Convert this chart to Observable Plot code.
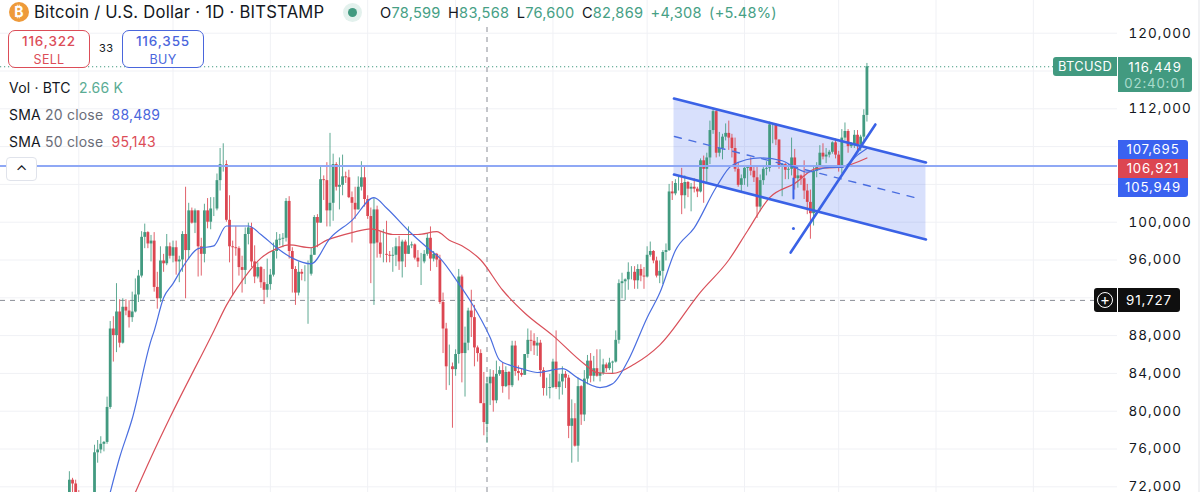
<!DOCTYPE html>
<html><head><meta charset="utf-8">
<script src="https://cdn.jsdelivr.net/npm/d3@7"></script>
<script src="https://cdn.jsdelivr.net/npm/@observablehq/plot@0.6"></script>
<style>
html,body{margin:0;padding:0;background:#fff;overflow:hidden}
#wrap{position:relative;width:1200px;height:492px;font-family:Inter,"Noto Sans",sans-serif;color:#131722}
#wrap svg{position:absolute;left:0;top:0;display:block}
#wrap svg text{letter-spacing:1px}
.t{position:absolute;white-space:nowrap;line-height:1}
.box{position:absolute;box-sizing:border-box;text-align:center;white-space:nowrap}
.g{color:#46a085}.r{color:#dc4d58}.b{color:#4a66dc}.m{color:#6a6d78}
.p{letter-spacing:.85px}
</style></head><body><div id="wrap"></div>
<script>
// Daily candles in thousands of USD, starting 2024-10-27
const firstDay = Date.UTC(2024, 9, 27);
const opens = [67.0,68.0,69.9,72.7,72.3,
70.2,69.5,69.3,68.8,67.8,69.4,75.6,75.9,76.5,76.7,80.4,88.7,88.0,90.5,87.2,91.0,90.6,89.9,90.5,92.3,94.3,98.4,98.9,97.7,98.0,93.1,91.9,95.9,95.6,97.4,
96.4,97.3,95.8,96.0,98.7,97.0,101.2,99.9,101.2,97.4,96.6,101.2,100.0,101.4,101.4,104.4,106.1,106.1,100.2,97.4,97.3,97.2,95.2,94.9,98.7,99.4,95.8,94.2,95.2,93.6,92.8,
93.4,94.4,96.9,98.1,98.2,98.3,102.2,96.9,95.0,92.5,94.7,94.5,94.5,94.5,96.5,100.5,99.9,104.5,104.4,101.2,102.0,106.1,103.7,103.9,104.8,104.7,102.6,102.0,101.3,103.7,104.7,
102.4,100.6,97.7,101.3,97.8,96.6,96.6,96.5,96.4,96.5,97.4,95.8,97.9,96.6,97.5,97.6,96.2,95.8,95.8,96.6,98.3,96.1,96.6,96.0,91.5,88.7,84.7,84.7,
84.4,86.0,94.2,86.1,87.2,90.6,89.9,86.7,86.1,80.8,78.6,82.9,83.6,81.1,83.9,84.3,82.6,84.1,82.7,86.9,84.2,84.0,83.8,86.0,87.5,87.4,86.9,87.2,84.3,82.4,82.4,
82.5,85.2,82.5,83.1,83.9,83.5,78.4,79.2,76.3,82.6,79.6,83.4,85.3,83.7,84.5,83.7,84.0,84.9,84.5,85.1,85.2,87.5,93.5,93.7,93.9,94.7,94.7,93.8,95.0,94.3,
94.2,96.5,96.9,95.9,94.3,94.8,96.8,97.0,103.2,103.0,104.1,104.1,102.8,104.2,103.5,103.7,103.5,103.2,106.5,105.6,106.8,109.7,111.7,107.3,107.8,109.0,109.4,108.9,107.8,105.6,103.9,
104.6,105.7,105.9,105.4,104.7,101.6,104.4,105.6,105.7,110.3,110.3,108.7,105.9,106.1,105.5,105.6,106.8,104.6,104.9,104.6,103.3,102.1,100.9,105.4,106.0,107.3,106.9,107.1,107.4,108.4,
107.1,105.7,108.9,109.6,108.0,108.2,109.2,108.2,109.0,111.3];
const highs = [68.3,70.2,73.6,72.9,72.7,
71.6,70.0,69.5,69.5,70.5,76.4,76.9,77.3,76.8,81.5,89.5,90.0,93.5,91.8,91.9,91.8,91.7,92.6,94.0,94.9,99.0,99.8,99.0,98.6,98.9,94.7,97.4,96.6,98.7,97.8,
98.0,98.0,96.4,99.0,103.7,102.0,101.5,101.4,101.2,98.3,101.9,102.5,102.6,102.6,105.1,107.8,108.3,106.5,102.8,98.0,99.5,97.4,96.4,99.4,99.9,99.9,97.5,95.7,95.3,95.0,96.1,
95.0,97.8,98.9,98.7,98.8,102.5,102.7,97.3,95.3,95.8,95.0,95.4,95.9,97.3,100.7,100.8,105.9,104.9,106.3,109.4,107.2,106.3,106.8,107.1,105.3,105.5,103.2,103.7,104.8,106.4,106.0,
102.8,101.5,102.5,101.7,99.0,99.2,100.1,96.9,97.3,98.3,98.5,98.1,98.1,99.5,97.9,97.7,97.0,96.7,97.0,98.8,99.5,96.9,96.7,96.5,92.5,89.3,87.0,85.1,
86.5,95.0,94.4,88.9,90.9,92.8,91.2,86.9,86.5,84.1,83.6,84.4,84.3,85.3,84.7,85.1,84.7,84.2,87.4,87.4,84.8,84.5,86.0,88.7,88.5,88.2,87.8,87.5,84.6,83.5,83.9,
85.5,88.5,83.9,84.7,84.2,83.8,81.2,80.8,83.5,82.7,84.3,85.9,86.1,85.8,86.5,86.5,85.5,85.1,85.6,85.3,88.5,93.9,94.6,94.0,95.7,95.3,95.3,95.5,95.5,95.2,
97.4,97.9,97.0,96.3,95.9,97.0,97.7,104.0,104.3,104.5,104.9,105.7,104.9,104.3,104.1,104.6,103.7,106.7,107.0,107.3,110.7,112.0,111.9,109.5,109.3,110.4,110.7,109.3,108.9,106.3,105.0,
105.8,105.9,106.8,106.0,105.9,105.0,105.9,106.4,110.6,110.4,110.4,108.7,106.2,106.2,106.1,108.9,107.7,105.6,105.0,106.5,104.0,103.4,106.0,106.3,108.1,108.3,107.8,107.6,108.5,108.8,
107.5,109.8,110.5,109.8,108.4,109.7,109.7,109.2,111.9,116.8];
const lows = [66.8,67.5,69.7,71.4,69.7,
68.8,69.0,67.5,66.8,67.5,69.3,74.5,75.5,75.7,76.5,80.2,85.2,86.2,86.7,87.1,90.1,88.8,89.4,90.4,91.5,94.1,97.2,97.2,95.8,92.6,90.8,91.5,94.7,95.4,96.1,
95.7,94.4,93.6,94.7,91.9,96.0,99.8,98.8,94.2,94.3,95.7,99.3,99.2,100.6,101.2,103.3,105.3,100.0,95.7,92.2,96.4,94.3,92.5,93.4,97.6,95.2,93.5,94.0,93.0,91.3,92.0,
92.8,94.2,96.1,97.5,97.3,97.9,96.1,92.5,91.2,92.2,93.8,93.7,89.2,94.3,96.5,97.3,99.9,102.3,99.5,99.5,100.1,103.3,101.3,102.8,104.1,102.5,97.8,100.3,101.3,103.3,101.6,
100.3,93.5,91.2,96.2,96.2,95.7,95.7,95.7,94.7,95.3,94.9,94.1,95.2,96.6,97.2,96.0,95.2,93.3,95.6,96.4,94.8,95.8,95.2,91.3,86.1,82.2,82.7,78.2,
83.7,85.0,83.0,81.5,86.4,87.8,84.7,85.2,80.9,77.4,76.6,80.6,79.9,80.8,83.7,81.9,82.5,81.2,82.5,83.7,83.2,83.6,83.8,85.6,86.3,85.9,85.8,83.6,81.6,81.6,81.3,
82.4,82.3,81.2,81.7,82.4,77.1,74.5,76.2,74.6,78.5,78.9,82.8,83.0,83.1,83.6,83.1,83.8,84.1,84.3,83.9,85.1,87.1,91.9,91.7,92.8,93.9,92.9,92.9,93.7,92.9,
94.1,96.3,95.6,94.1,93.5,93.4,95.9,96.9,102.3,102.8,103.3,100.8,101.4,102.6,101.1,103.1,102.6,103.1,102.0,104.2,106.1,109.3,106.8,106.9,106.6,108.6,107.6,106.8,105.3,103.7,103.1,
103.9,103.7,104.9,104.2,100.4,101.1,103.9,104.9,105.3,108.3,108.1,105.6,102.7,104.5,104.5,104.9,103.4,103.6,103.9,102.4,100.8,98.2,99.6,104.7,105.9,106.6,106.2,106.8,107.2,106.7,
105.3,105.1,108.6,107.3,107.8,107.8,107.5,107.5,108.4,110.6];
const closes = [68.0,69.9,72.7,72.3,70.2,
69.5,69.3,68.8,67.8,69.4,75.6,75.9,76.5,76.7,80.4,88.7,88.0,90.5,87.2,91.0,90.6,89.9,90.5,92.3,94.3,98.4,98.9,97.7,98.0,93.1,91.9,95.9,95.6,97.4,96.4,
97.3,95.8,96.0,98.7,97.0,101.2,99.9,101.2,97.4,96.6,101.2,100.0,101.4,101.4,104.4,106.1,106.1,100.2,97.4,97.3,97.2,95.2,94.9,98.7,99.4,95.8,94.2,95.2,93.6,92.8,93.4,
94.4,96.9,98.1,98.2,98.3,102.2,96.9,95.0,92.5,94.7,94.5,94.5,94.5,96.5,100.5,99.9,104.5,104.4,101.2,102.0,106.1,103.7,103.9,104.8,104.7,102.6,102.0,101.3,103.7,104.7,102.4,
100.6,97.7,101.3,97.8,96.6,96.6,96.5,96.4,96.5,97.4,95.8,97.9,96.6,97.5,97.6,96.2,95.8,95.8,96.6,98.3,96.1,96.6,96.0,91.5,88.7,84.7,84.7,84.4,
86.0,94.2,86.1,87.2,90.6,89.9,86.7,86.1,80.8,78.8,82.9,83.6,81.1,83.9,84.3,82.6,84.1,82.7,86.9,84.2,84.0,83.8,86.0,87.5,87.4,86.9,87.2,84.3,82.4,82.4,82.5,
85.2,82.5,83.1,83.9,83.5,78.4,79.2,76.3,82.6,79.6,83.4,85.3,83.7,84.5,83.7,84.0,84.9,84.5,85.1,85.2,87.5,93.5,93.7,93.9,94.7,94.7,93.8,95.0,94.3,94.2,
96.5,96.9,95.9,94.3,94.8,96.8,97.0,103.2,103.0,104.1,104.1,102.8,104.2,103.5,103.7,103.5,103.2,106.5,105.6,106.8,109.7,111.7,107.3,107.8,109.0,109.4,108.9,107.8,105.6,103.9,104.6,
105.7,105.9,105.4,104.7,101.6,104.4,105.6,105.7,110.3,110.3,108.7,105.9,106.1,105.5,105.6,106.8,104.6,104.9,104.6,103.3,102.1,100.9,105.4,106.0,107.3,106.9,107.1,107.4,108.4,107.1,
105.7,108.9,109.6,108.0,108.2,109.2,108.2,109.0,111.3,116.449];

// SMA curves: day number since firstDay, price in thousands
const sma20Days = [15,18,22,28,29,32,35,38,43,48,52,59,63,68,73,79,85,92,99,103,110,116,120,126,130,136,139,142,146,151,159,164,171,175,180,186,190,195,201,208,213,222,229,233,237,244,248,253,256];
const sma20Vals = [71.4,75.1,79.2,87.5,88.5,92.0,93.5,95.2,97.2,97.5,99.6,99.6,98.7,97.3,96.2,95.6,98.3,100.2,102.6,101.5,99.1,97.3,96.2,93.5,91.5,87.8,85.4,84.9,84.5,84.1,84.5,83.5,82.5,82.9,85.4,89.9,92.5,97.0,99.4,103.7,106.0,106.8,106.5,105.8,105.3,105.8,105.8,107.1,107.8];
const sma50Days = [23,28,34,48,52,57,63,68,72,79,84,92,98,105,113,119,123,127,133,140,147,156,166,170,175,182,190,203,212,218,225,233,240,247,256];
const sma50Vals = [71.4,75.1,79.3,88.5,91.2,93.8,96.2,97.2,97.6,97.3,98.1,98.9,99.3,98.7,98.7,99.0,98.1,97.5,96.0,92.8,90.4,88.0,85.0,84.1,84.0,85.0,87.0,92.6,96.0,99.1,102.6,104.1,105.7,105.8,106.8];

// Hand drawings on the chart: day numbers and prices
const channelDays = [194.55, 274.8];
const channelUpper = [113.09, 106.32];
const channelLower = [105.05, 98.17];
const midDays = [194.7, 272.4];
const midVals = [109.07, 102.51];
const trendDays = [231.7, 258.7];
const trendVals = [96.79, 110.34];
const stubDays = [232.6, 232.6];
const stubVals = [104.63, 102.51];
const dotDay = 232.6, dotVal = 99.33;

const levelLine = 105.949;
const lastPrice = 116.449;
const crossDay = 135;
const crossPrice = 91.727;
const gridPrices = [72,76,80,84,88,92,96,100,104,108,112,116,120];
const tickPrices = [72,76,80,84,88,96,100,112,120];

const GREEN = "#429a80", RED = "#dc4651", BLUE = "#3a62e6", SMA_BLUE = "#4a6ee0", SMA_RED = "#d9505a";
const dayDate = d => new Date(firstDay + d * 864e5);
const candles = closes.map((c, i) => ({date: dayDate(i), o: opens[i], h: highs[i], l: lows[i], c, col: c >= opens[i] ? GREEN : RED}));
const pairs = (ds, vs) => ds.map((d, i) => ({date: dayDate(d), v: vs[i]}));
const channel = channelDays.map((d, i) => ({date: dayDate(d), u: channelUpper[i], l: channelLower[i]}));
const months = d3.utcMonth.range(new Date(Date.UTC(2024, 9, 1)), new Date(Date.UTC(2025, 9, 1)));

const plot = Plot.plot({
  width: 1200, height: 492,
  marginLeft: 0, marginRight: 83, marginTop: 0, marginBottom: 0,
  style: {background: "transparent", fontFamily: "Inter, 'Noto Sans', sans-serif"},
  x: {type: "utc", domain: [dayDate(-19.94), dayDate(335.8)], axis: null},
  y: {domain: [71.4, 123.46], axis: null},
  marks: [
    Plot.ruleX(months, {stroke: "#f0f1f5", strokeWidth: 1}),
    Plot.ruleY(gridPrices, {stroke: "#f0f1f5", strokeWidth: 1}),
    Plot.areaY(channel, {x: "date", y1: "l", y2: "u", fill: "#3a63ee", fillOpacity: 0.2}),
    Plot.ruleY([lastPrice], {stroke: GREEN, strokeDasharray: "1.2,2.8", strokeWidth: 1}),
    Plot.ruleX([dayDate(crossDay)], {y1: 71.4, y2: 121, stroke: "#8a8d96", strokeDasharray: "5,5", strokeWidth: 1}),
    Plot.ruleY([crossPrice], {stroke: "#8a8d96", strokeDasharray: "5,5", strokeWidth: 1}),
    Plot.ruleX(candles, {x: "date", y1: "l", y2: "h", stroke: "col", strokeWidth: 1, strokeOpacity: 0.85}),
    Plot.ruleX(candles, {x: "date", y1: "o", y2: "c", stroke: "col", strokeWidth: 2.8}),
    Plot.line(pairs(sma50Days, sma50Vals), {x: "date", y: "v", stroke: SMA_RED, strokeWidth: 1.2, curve: "monotone-x"}),
    Plot.line(pairs(sma20Days, sma20Vals), {x: "date", y: "v", stroke: SMA_BLUE, strokeWidth: 1.2, curve: "monotone-x"}),
    Plot.ruleY([levelLine], {stroke: "#8fa8f5", strokeWidth: 2.2}),
    Plot.line(channel, {x: "date", y: "u", stroke: BLUE, strokeWidth: 2.6}),
    Plot.line(channel, {x: "date", y: "l", stroke: BLUE, strokeWidth: 2.6}),
    Plot.line(pairs(midDays, midVals), {x: "date", y: "v", stroke: "#4a6ee0", strokeWidth: 1.4, strokeDasharray: "7,8"}),
    Plot.line(pairs(trendDays, trendVals), {x: "date", y: "v", stroke: BLUE, strokeWidth: 2.6}),
    Plot.line(pairs(stubDays, stubVals), {x: "date", y: "v", stroke: BLUE, strokeWidth: 2}),
    Plot.dot([{date: dayDate(dotDay), v: dotVal}], {x: "date", y: "v", r: 1.5, fill: BLUE}),
    Plot.axisY(tickPrices, {anchor: "right", tickSize: 0, tickPadding: 11, fontSize: 13.5, stroke: "none", fill: "#131722", tickFormat: d => d3.format(",")(d * 1000), label: null})
  ]
});
const wrap = document.getElementById("wrap");
wrap.appendChild(plot);

const overlay = `
<div class="box" style="left:9px;top:2px;width:20px;height:20px;border-radius:50%;background:#ee9a3a;color:#fff;font-size:14px;line-height:20px;font-weight:700">₿</div>
<div class="t" style="left:34px;top:3px;font-size:16.6px;line-height:19px;letter-spacing:.26px">Bitcoin / U.S. Dollar · 1D · BITSTAMP</div>
<div class="box" style="left:343px;top:3px;width:19px;height:19px;border-radius:50%;background:#e3f1ed"></div>
<div class="box" style="left:348px;top:8px;width:9px;height:9px;border-radius:50%;background:#429a80"></div>
<div class="t" style="left:380px;top:4px;font-size:14.6px;line-height:18px;word-spacing:3px;letter-spacing:.25px">O<span class="g">78,599</span> H<span class="g">83,568</span> L<span class="g">76,600</span> C<span class="g">82,869</span> <span class="g">+4,308 (+5.48%)</span></div>

<div class="box r p" style="left:8px;top:30px;width:82px;height:38px;border:1.2px solid #dc4d58;border-radius:7px;background:#fff;font-size:13.5px;font-weight:500;line-height:18px;padding-top:1px">116,322<br><span style="font-size:12.5px;font-weight:400;letter-spacing:.3px">SELL</span></div>
<div class="t" style="left:99px;top:43px;font-size:11px;color:#131722;letter-spacing:.5px">33</div>
<div class="box b p" style="left:122px;top:30px;width:82px;height:38px;border:1.2px solid #4a66dc;border-radius:7px;background:#fff;font-size:13.5px;font-weight:500;line-height:18px;padding-top:1px">116,355<br><span style="font-size:12.5px;font-weight:400;letter-spacing:.3px">BUY</span></div>

<div class="t" style="left:9px;top:79px;font-size:14px;line-height:17px;letter-spacing:.2px">Vol · BTC &nbsp;<span style="color:#5aac94">2.66 K</span></div>
<div class="t" style="left:9px;top:106px;font-size:14px;line-height:17px;letter-spacing:.2px">SMA <span class="m">20 close</span> &nbsp;<span class="b">88,489</span></div>
<div class="t" style="left:9px;top:133px;font-size:14px;line-height:17px;letter-spacing:.2px">SMA <span class="m">50 close</span> &nbsp;<span class="r">95,143</span></div>

<div class="box" style="left:6px;top:157px;width:31px;height:24px;background:#fff;border:1px solid #e0e3eb;border-radius:4px;font-size:15px;line-height:26px;color:#131722">⌃</div>

<div class="box" style="left:1053px;top:57px;width:64px;height:19px;background:#429a80;color:#fff;border-radius:3px 0 0 3px;font-size:12.8px;line-height:19px;letter-spacing:.4px">BTCUSD</div>
<div class="box p" style="left:1118px;top:57px;width:74px;height:35px;background:#429a80;color:#fff;border-radius:0 3px 3px 0;font-size:13.2px;line-height:16px;padding-top:2px">116,449<br><span style="color:#a9dccd">02:40:01</span></div>

<div class="box p" style="left:1118px;top:140px;width:70px;height:19px;background:#3a62f0;color:#fff;border-radius:0 3px 0 0;font-size:13.2px;line-height:19px">107,695</div>
<div class="box p" style="left:1118px;top:159px;width:70px;height:19px;background:#dc4651;color:#fff;font-size:13.2px;line-height:19px">106,921</div>
<div class="box p" style="left:1118px;top:178px;width:70px;height:19px;background:#3a62f0;color:#fff;border-radius:0 0 3px 0;font-size:13.2px;line-height:19px">105,949</div>

<div class="box" style="left:1094px;top:288px;width:23px;height:24px;background:#0f0f0f;border-radius:3px 0 0 3px"></div>
<div class="box" style="left:1097px;top:292px;width:16px;height:16px;border:1.2px solid #fff;border-radius:50%;color:#fff;font-size:15px;line-height:14px">+</div>
<div class="box p" style="left:1118px;top:288px;width:62px;height:24px;background:#0f0f0f;color:#fff;border-radius:0 3px 3px 0;font-size:13.4px;line-height:24px">91,727</div>
<div class="box" style="left:1198px;top:0;width:2px;height:492px;background:#f1f2f4"></div>
`;
const layer = document.createElement("div");
layer.innerHTML = overlay;
wrap.appendChild(layer);
</script></body></html>
